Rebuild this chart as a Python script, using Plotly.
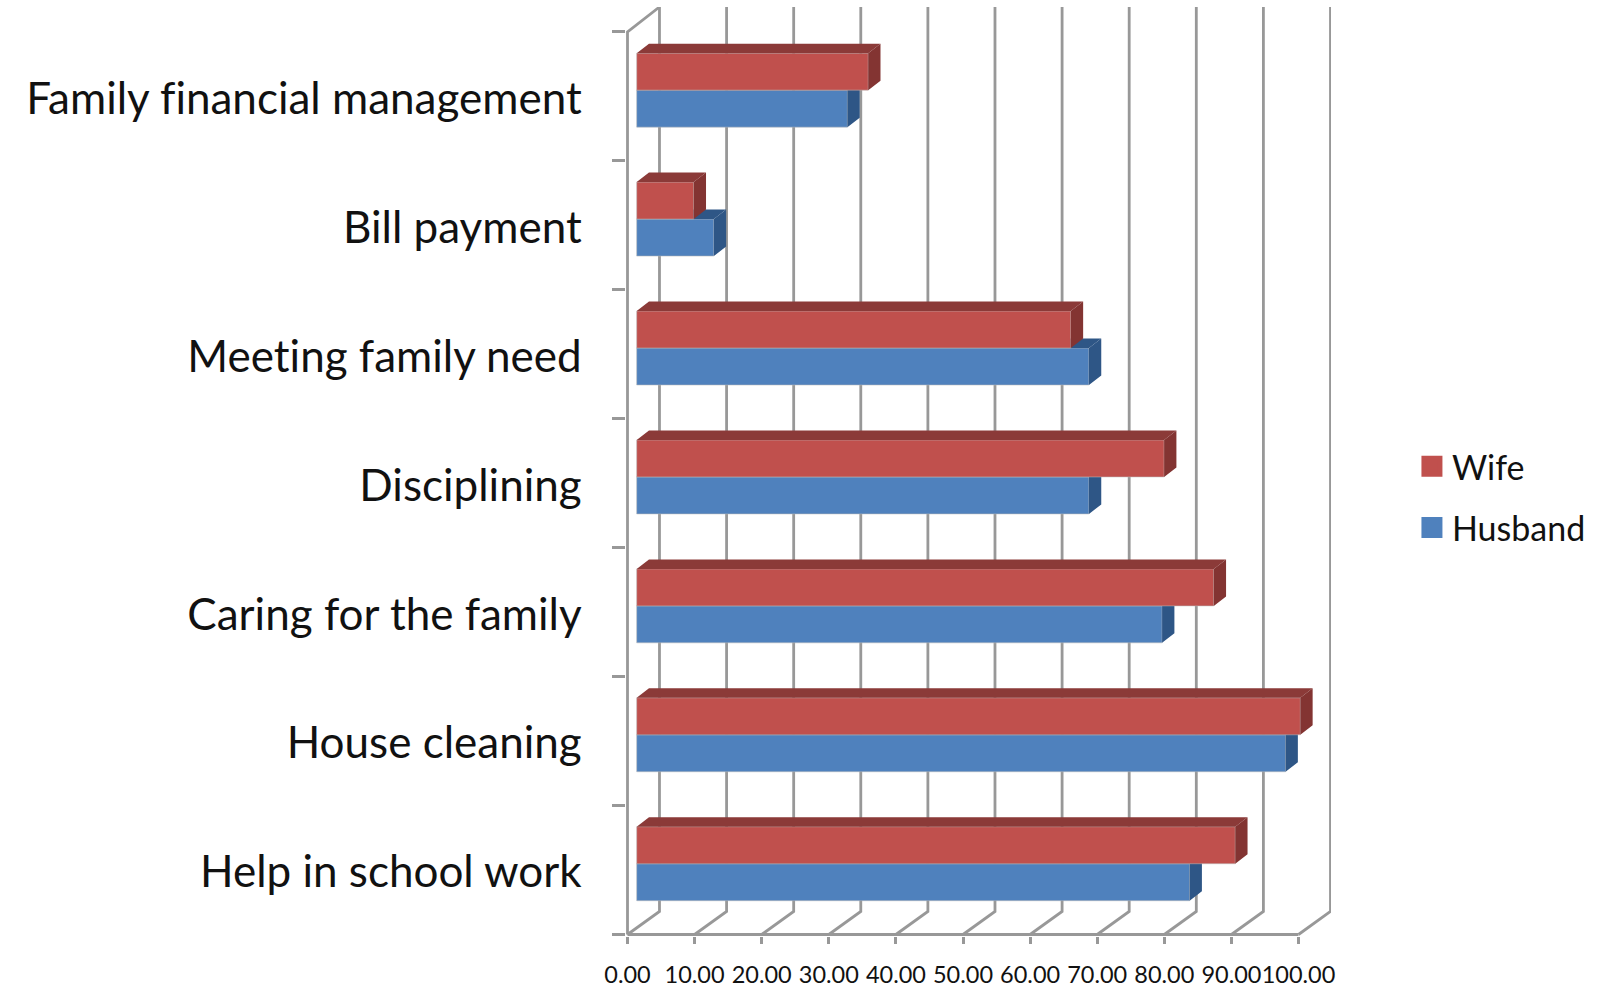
import plotly.graph_objects as go

categories = ["Help in school work", "House cleaning", "Caring for the family", "Disciplining",
              "Meeting family need", "Bill payment", "Family financial management"]
wife = [89.2, 98.9, 86.0, 78.6, 64.7, 8.5, 34.5]
husband = [82.4, 96.7, 78.3, 67.4, 67.4, 11.5, 31.4]
x_ticks = [0, 10, 20, 30, 40, 50, 60, 70, 80, 90, 100]

W, H = 1598, 988
PAD = 1.5
L, R, T, B = 627.5 - PAD, 1331.5, 7, 935 + PAD
PX_X = 6.715
PX_Y = 129.0
XMIN, YMIN = -PAD / PX_X, -PAD / PX_Y
XMAX = (R - L) / PX_X + XMIN
YMAX = (B - T) / PX_Y + YMIN
WALL_DX, WALL_DY = 32 / PX_X, 23 / PX_Y
BAR_X0, BAR_DY = 9.2 / PX_X, 6.3 / PX_Y
DEPTH_X, DEPTH_Y = 12.3 / PX_X, 9.5 / PX_Y
BAR_H = 37 / PX_Y
GRID = "#989898"
GRID_W = 2.8
FONT = "Lato"
TXT = "#111111"


def faces(values, centers):
    tx, ty, sx, sy = [], [], [], []
    for v, c in zip(values, centers):
        xe = v + BAR_X0
        top, bot = c + BAR_H / 2, c - BAR_H / 2
        tx += [BAR_X0, xe, xe + DEPTH_X, BAR_X0 + DEPTH_X, BAR_X0, None]
        ty += [top, top, top + DEPTH_Y, top + DEPTH_Y, top, None]
        sx += [xe, xe, xe + DEPTH_X, xe + DEPTH_X, xe, None]
        sy += [bot, top, top + DEPTH_Y, bot + DEPTH_Y, bot, None]
    return tx, ty, sx, sy


fig = go.Figure()

# walls and floor
gx, gy = [], []
for t in x_ticks:
    gx += [t, t + WALL_DX, t + WALL_DX, None]
    gy += [0, WALL_DY, YMAX, None]
gx += [0, 100, None, 0, 0, WALL_DX]
gy += [0, 0, None, 0, len(categories), YMAX]
fig.add_trace(go.Scatter(x=gx, y=gy, mode="lines", line=dict(color=GRID, width=GRID_W),
                         showlegend=False, hoverinfo="skip"))


def series(name, values, centers, front, top, side, ax):
    xa, ya = f"x{ax}", f"y{ax}"
    fig.add_trace(go.Bar(name=name, orientation="h", x=values, y=centers, base=BAR_X0, width=BAR_H,
                         marker=dict(color=front, line=dict(color="rgba(185,185,185,0.55)", width=1)),
                         xaxis=xa, yaxis=ya, showlegend=False))
    tx, ty, sx, sy = faces(values, centers)
    fig.add_trace(go.Scatter(x=tx, y=ty, mode="lines", fill="toself", fillcolor=top, line=dict(width=0, color=top),
                             xaxis=xa, yaxis=ya, showlegend=False, hoverinfo="skip"))
    fig.add_trace(go.Scatter(x=sx, y=sy, mode="lines", fill="toself", fillcolor=side, line=dict(width=0, color=side),
                             xaxis=xa, yaxis=ya, showlegend=False, hoverinfo="skip"))


mid = [i + 0.5 + BAR_DY for i in range(len(categories))]
series("Husband", husband, [c - BAR_H / 2 for c in mid], "#4F81BD", "#2E5686", "#2E5686", 2)
series("Wife", wife, [c + BAR_H / 2 for c in mid], "#C0504D", "#8B3A38", "#833432", 3)

for name, color in (("Wife", "#C0504D"), ("Husband", "#4F81BD")):
    fig.add_trace(go.Scatter(x=[None], y=[None], name=name, mode="markers", legendgroup=name,
                             marker=dict(symbol="square", size=16, color=color, line=dict(color=color, width=5))))

fig.update_layout(
    width=W, height=H, paper_bgcolor="white", plot_bgcolor="white",
    margin=dict(l=L, r=W - R, t=T, b=H - B, pad=0),
    barmode="overlay", showlegend=True,
    legend=dict(x=(1412.5 - L) / (R - L), y=1 - (438 - T) / (B - T), xanchor="left", yanchor="top", tracegroupgap=14,
                font=dict(family=FONT, size=34, color=TXT), bgcolor="rgba(0,0,0,0)", borderwidth=0),
    xaxis=dict(range=[XMIN, XMAX], tickmode="array", tickvals=x_ticks, ticktext=[f"{t:.2f}" for t in x_ticks],
               ticks="outside", ticklen=6.5, tickwidth=GRID_W, tickcolor=GRID, showgrid=False, zeroline=False,
               showline=False, tickangle=0, ticklabelstandoff=11,
               tickfont=dict(family=FONT, size=23.5, color=TXT), automargin=False),
    yaxis=dict(range=[YMIN, YMAX], tickmode="array", tickvals=[i + 0.485 for i in range(len(categories))],
               ticktext=categories, ticks="outside", ticklen=34.5, tickcolor="rgba(0,0,0,0)", showgrid=False,
               zeroline=False, showline=False, automargin=False, tickfont=dict(family=FONT, size=44, color=TXT),
               minor=dict(tickmode="array", tickvals=list(range(len(categories) + 1)), ticks="outside", ticklen=13.5,
                          tickwidth=GRID_W, tickcolor=GRID, showgrid=False)),
)
for ax in (2, 3):
    fig.update_layout({f"xaxis{ax}": dict(range=[XMIN, XMAX], overlaying="x", visible=False),
                       f"yaxis{ax}": dict(range=[YMIN, YMAX], overlaying="y", visible=False)})

post = """
document.body.style.margin = '0';
var s = document.createElement('style');
s.textContent = 'svg text { font-variant-ligatures: none !important; font-feature-settings: "liga" 0, "clig" 0 !important; }';
document.head.appendChild(s);
"""
fig.write_html("out.html", config={"displayModeBar": False}, post_script=post)
